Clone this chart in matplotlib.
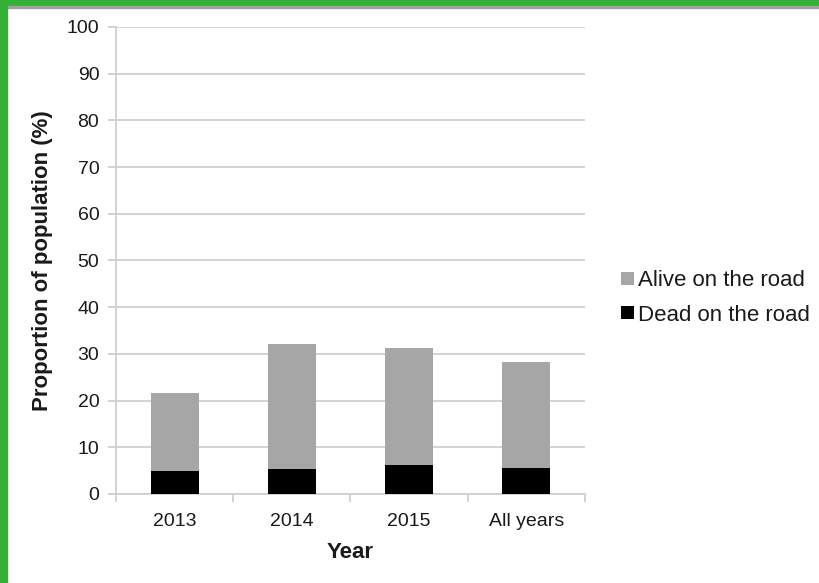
import matplotlib
matplotlib.use("Agg")
import matplotlib.pyplot as plt
from matplotlib.patches import Rectangle
import numpy as np

plt.rcParams["font.family"] = ["Liberation Sans", "DejaVu Sans"]

years = ["2013", "2014", "2015", "All years"]
dead = [4.9, 5.3, 6.2, 5.6]
alive = [16.7, 26.8, 25.0, 22.6]

TEXT = "#1a1a1a"
GRID = "#d0d0d0"

fig = plt.figure(figsize=(8.19, 5.83), dpi=100)
ax = fig.add_axes([0.1416, 0.1527, 0.5727, 0.801])

x = np.arange(len(years))
ax.bar(x, dead, width=0.41, color="black", label="Dead on the road", zorder=3)
ax.bar(x, alive, width=0.41, bottom=dead, color="#a6a6a6",
       label="Alive on the road", zorder=3)

ax.set_xlim(-0.5, len(years) - 0.5)
ax.set_ylim(0, 100)
ax.set_yticks(range(0, 101, 10))
ax.yaxis.grid(True, color=GRID, linewidth=1.3, zorder=0)

# category labels centred, tick marks on the category boundaries
ax.set_xticks(x)
ax.set_xticklabels(years, fontsize=14, color=TEXT)
ax.set_xticks(np.arange(len(years) + 1) - 0.5, minor=True)
ax.tick_params(axis="x", which="major", length=0, pad=14)
ax.tick_params(axis="x", which="minor", length=6, color=GRID, width=1.3)
ax.tick_params(axis="y", length=6, color=GRID, width=1.3, labelsize=14,
               labelcolor=TEXT, pad=6)

for side in ("top", "right"):
    ax.spines[side].set_visible(False)
for side in ("left", "bottom"):
    ax.spines[side].set_color(GRID)
    ax.spines[side].set_linewidth(1.3)

ax.set_xlabel("Year", fontsize=16, fontweight="bold", color=TEXT, labelpad=8)
ax.set_ylabel("Proportion of population (%)", fontsize=16, fontweight="bold",
              color=TEXT, labelpad=10)

handles, labels = ax.get_legend_handles_labels()
ax.legend(handles[::-1], labels[::-1], loc="center left",
          bbox_to_anchor=(1.035, 0.42), frameon=False, fontsize=16,
          handlelength=0.55, handleheight=0.55, handletextpad=0.2,
          labelspacing=0.6, labelcolor=TEXT)

# green frame along the top and left edges
fig.patches.append(Rectangle((0, 1 - 6 / 583), 1, 6 / 583,
                             transform=fig.transFigure, color="#33b035"))
fig.patches.append(Rectangle((0, 1 - 8 / 583), 1, 2 / 583,
                             transform=fig.transFigure, color="#a0a0a0"))
fig.patches.append(Rectangle((0, 0), 7 / 819, 1,
                             transform=fig.transFigure, color="#33b035"))

fig.savefig("out.png", dpi=100)
